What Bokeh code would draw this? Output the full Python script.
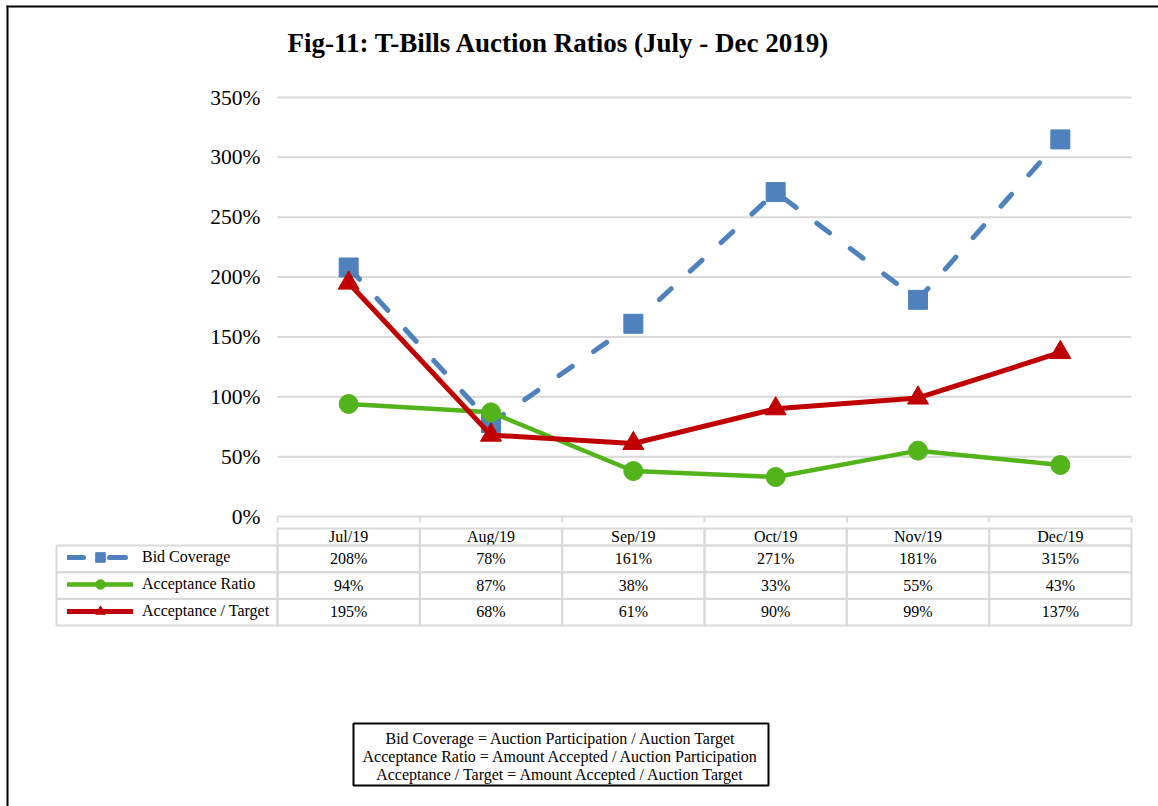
from bokeh.plotting import figure
from bokeh.models import (Range1d, FixedTicker, NumeralTickFormatter,
                          Legend, LegendItem, Label)
from bokeh.core.properties import value
from bokeh.embed import file_html
from bokeh.resources import INLINE

# ---------------- data ----------------
months = ["Jul/19", "Aug/19", "Sep/19", "Oct/19", "Nov/19", "Dec/19"]
bid_coverage = [2.08, 0.78, 1.61, 2.71, 1.81, 3.15]
acceptance_ratio = [0.94, 0.87, 0.38, 0.33, 0.55, 0.43]
acceptance_target = [1.95, 0.68, 0.61, 0.90, 0.99, 1.37]
series_names = ["Bid Coverage", "Acceptance Ratio", "Acceptance / Target"]
y_ticks = [0, 0.5, 1.0, 1.5, 2.0, 2.5, 3.0, 3.5]
title_text = "Fig-11: T-Bills Auction Ratios (July - Dec 2019)"
notes = [
    "Bid Coverage = Auction Participation / Auction Target",
    "Acceptance Ratio = Amount Accepted / Auction Participation",
    "Acceptance / Target = Amount Accepted / Auction Target",
]

BLUE = "#4F81BD"
GREEN = "#52B41A"
RED = "#C00000"
GRID = "#D9D9D9"
FONT = "Liberation Serif"

# ---------------- layout helpers (page pixels -> plot units) ----------------
W, H = 1158, 806
PXU = (516 - 97) / 3.5            # px per 100 %
CW = (1131 - 277) / len(months)   # px per category


def yv(Y):
    return (516 - Y) / PXU


def xv(X):
    return (X - 277) / CW


p = figure(width=W, height=H,
           x_range=Range1d(xv(0), xv(W)),
           y_range=Range1d(yv(H), yv(0)),
           output_backend="svg", toolbar_location=None,
           min_border_left=0, min_border_right=0,
           min_border_top=0, min_border_bottom=0)
p.outline_line_color = None
p.background_fill_color = "white"
p.border_fill_color = "white"
p.xaxis.visible = False
p.xgrid.visible = False
p.ygrid.visible = False

# y axis: labels drawn inside the canvas, right-aligned left of the plot area
p.yaxis.ticker = FixedTicker(ticks=y_ticks)
p.yaxis.formatter = NumeralTickFormatter(format="0%")
p.yaxis.axis_line_color = None
p.yaxis.major_tick_line_color = None
p.yaxis.minor_tick_line_color = None
p.yaxis.major_tick_out = 0
p.yaxis.major_tick_in = 0
p.yaxis.major_label_standoff = -260
p.yaxis.major_label_text_font = FONT
p.yaxis.major_label_text_font_size = "21.5px"
p.yaxis.major_label_text_color = "#000000"

xm = [i + 0.5 for i in range(len(months))]   # category centres
bounds = list(range(len(months) + 1))         # category edges

# horizontal gridlines at the y ticks, across the plot area
p.segment(x0=[bounds[0]] * len(y_ticks), x1=[bounds[-1]] * len(y_ticks),
          y0=y_ticks, y1=y_ticks, line_color=GRID, line_width=2)
# category boundary tick marks below the 0% line
p.segment(x0=bounds, y0=[0] * len(bounds), x1=bounds,
          y1=[yv(522)] * len(bounds), line_color=GRID, line_width=2)

# outer black frame (top and left edges)
p.segment(x0=[xv(6), xv(7)], y0=[yv(6), yv(5)], x1=[xv(W + 10), xv(7)],
          y1=[yv(6), yv(H + 10)], line_color="#000000", line_width=2)

# title
p.add_layout(Label(x=xv(287), y=yv(42), text=title_text,
                   text_font=FONT, text_font_style="bold",
                   text_font_size="27px", text_color="#000000",
                   text_baseline="middle", text_align="left"))

# ---------------- series ----------------
l1 = p.line(xm, bid_coverage, line_color=BLUE, line_width=5,
            line_dash="16 26", line_cap="round")
s1 = p.scatter(xm, bid_coverage, marker="square", size=19,
               fill_color=BLUE, line_color=BLUE)
l2 = p.line(xm, acceptance_ratio, line_color=GREEN, line_width=4.5,
            line_cap="round")
s2 = p.scatter(xm, acceptance_ratio, marker="circle", size=19,
               fill_color=GREEN, line_color=GREEN)
l3 = p.line(xm, acceptance_target, line_color=RED, line_width=5,
            line_cap="round")
s3 = p.scatter(xm, acceptance_target, marker="triangle", size=21,
               fill_color=RED, line_color=RED)

# ---------------- data table ----------------
n = len(months)
p.rect(x=xm, y=[yv(536.5)] * n, width=1, height=17 / PXU,
       fill_color=None, line_color=GRID, line_width=2)
p.text(x=xm, y=[yv(536)] * n, text=months, text_font=value(FONT),
       text_font_size="16px", text_align="center", text_baseline="middle",
       text_color="#000000")

row_top = [545, 571.7, 598.3]
row_h = 26.7
series = [bid_coverage, acceptance_ratio, acceptance_target]
leg_l = xv(56)
for r, vals in enumerate(series):
    yc = row_top[r] + row_h / 2
    p.rect(x=xm, y=[yv(yc)] * n, width=1, height=row_h / PXU,
           fill_color=None, line_color=GRID, line_width=2)
    p.rect(x=[leg_l / 2], y=[yv(yc)], width=-leg_l, height=row_h / PXU,
           fill_color=None, line_color=GRID, line_width=2)
    p.text(x=xm, y=[yv(yc - 0.5)] * n,
           text=[f"{round(v * 100)}%" for v in vals],
           text_font=value(FONT), text_font_size="16px",
           text_align="center", text_baseline="middle",
           text_color="#000000")

# legend keys of the table (library legend, placed in the left column)
legend = Legend(items=[LegendItem(label=series_names[0], renderers=[l1, s1]),
                       LegendItem(label=series_names[1], renderers=[l2, s2]),
                       LegendItem(label=series_names[2], renderers=[l3, s3])],
                location=(67, H - 623),
                orientation="vertical", padding=0, margin=0, spacing=3,
                glyph_width=66, glyph_height=24, label_height=24,
                label_standoff=9,
                label_text_font=FONT, label_text_font_size="16px",
                label_text_color="#000000",
                background_fill_alpha=0, border_line_color=None)
p.add_layout(legend)

# ---------------- notes box ----------------
bx = xv((353 + 768) / 2)
p.rect(x=[bx], y=[yv(754)], width=(768 - 353) / CW, height=62 / PXU,
       fill_color=None, line_color="#000000", line_width=2)
p.text(x=[bx] * 3, y=[yv(737.5), yv(755.5), yv(773.5)], text=notes,
       text_font=value(FONT), text_font_size="16px", text_align="center",
       text_baseline="middle", text_color="#000000")

open("out.html", "w").write(file_html(p, INLINE))
